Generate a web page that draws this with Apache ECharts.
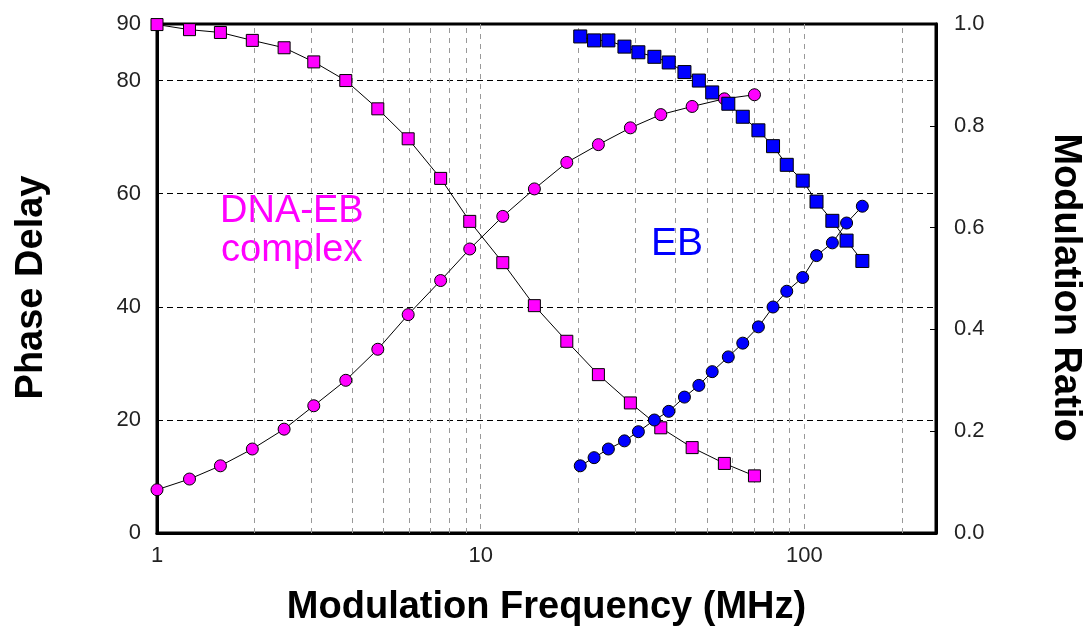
<!DOCTYPE html>
<html>
<head>
<meta charset="utf-8">
<script src="https://cdn.jsdelivr.net/npm/echarts@6/dist/echarts.min.js"></script>
<style>
  html, body { margin: 0; padding: 0; background: #fff; }
  #chart { width: 1084px; height: 627px; }
</style>
</head>
<body>
<div id="chart"></div>
<script>
// modulation frequencies (MHz)
const freqComplex = [1, 1.26, 1.57, 1.97, 2.47, 3.05, 3.83, 4.81, 5.97, 7.52, 9.25, 11.7, 14.65, 18.45, 23.1, 29.0, 36.0, 45.0, 56.6, 70.1];
const freqEB = [20.3, 22.4, 24.8, 27.8, 30.7, 34.4, 38.1, 42.6, 47.2, 51.9, 58.2, 64.5, 72.1, 80.0, 88.2, 98.8, 109, 122, 135, 151];

// DNA-EB complex
const phaseComplex = [89.9, 89.0, 88.5, 87.1, 85.8, 83.3, 80.0, 75.0, 69.7, 62.7, 55.1, 47.8, 40.2, 33.9, 28.0, 23.0, 18.6, 15.1, 12.3, 10.1];
const ratioComplex = [0.085, 0.106, 0.132, 0.165, 0.204, 0.250, 0.300, 0.361, 0.429, 0.496, 0.558, 0.622, 0.676, 0.728, 0.763, 0.796, 0.822, 0.838, 0.853, 0.861];

// free EB
const phaseEB = [87.8, 87.1, 87.1, 86.0, 85.0, 84.2, 83.2, 81.5, 80.0, 77.9, 75.9, 73.6, 71.2, 68.4, 65.1, 62.3, 58.6, 55.2, 51.7, 48.1];
const ratioEB = [0.132, 0.148, 0.165, 0.181, 0.199, 0.222, 0.239, 0.267, 0.290, 0.317, 0.346, 0.373, 0.405, 0.444, 0.475, 0.502, 0.545, 0.570, 0.609, 0.642];

// minor vertical grid lines on the log axis
const minorFreqs = [2, 3, 4, 5, 6, 7, 8, 9, 20, 30, 40, 50, 60, 70, 80, 90, 200];

const pair = (xs, ys) => xs.map((x, i) => [x, ys[i]]);

const tickFont = { fontFamily: 'Liberation Sans, Arial, sans-serif', fontSize: 22, color: '#222' };
const nameFont = { fontFamily: 'Liberation Sans, Arial, sans-serif', fontSize: 38, fontWeight: 'bold', color: '#000' };

function lineSeries(data, yIdx, shape, color, size) {
  return {
    type: 'line',
    yAxisIndex: yIdx,
    data: data,
    symbol: shape,
    symbolSize: size,
    showAllSymbol: true,
    itemStyle: { color: color, borderColor: '#000', borderWidth: 1 },
    lineStyle: { color: '#000', width: 1 },
    z: 5,
    silent: true
  };
}

const chart = echarts.init(document.getElementById('chart'));
chart.setOption({
  animation: false,
  grid: {
    left: 157, right: 148, top: 24, bottom: 94,
    outerBoundsMode: 'none', containLabel: false,
    show: true, borderColor: '#000', borderWidth: 3, backgroundColor: 'transparent'
  },
  xAxis: {
    type: 'log', logBase: 10, min: 1, max: 255,
    name: 'Modulation Frequency (MHz)',
    nameLocation: 'middle', nameGap: 56,
    nameTextStyle: nameFont,
    axisLine: { show: true, lineStyle: { color: '#000', width: 3 } },
    axisTick: { show: false },
    axisLabel: Object.assign({ margin: 12, showMaxLabel: false }, tickFont),
    splitLine: { show: true, lineStyle: { color: '#999', type: [5, 5], width: 1 } }
  },
  yAxis: [
    {
      type: 'value', min: 0, max: 90, interval: 20,
      name: 'Phase Delay',
      nameLocation: 'middle', nameGap: 106, nameRotate: 90,
      nameTextStyle: Object.assign({ padding: [0, 18, 0, 0] }, nameFont),
      axisLine: { show: true, lineStyle: { color: '#000', width: 3 } },
      axisTick: { show: true, inside: true, length: 5, lineStyle: { color: '#000' } },
      axisLabel: Object.assign({ margin: 16 }, tickFont),
      splitLine: { show: true, lineStyle: { color: '#000', type: [6, 4], width: 1 } }
    },
    {
      type: 'value', min: 0, max: 1, interval: 0.2,
      name: 'Modulation Ratio',
      nameLocation: 'middle', nameGap: 110, nameRotate: -90,
      nameTextStyle: Object.assign({ padding: [0, 0, 0, 18] }, nameFont),
      axisLine: { show: true, lineStyle: { color: '#000', width: 3 } },
      axisTick: { show: true, inside: true, length: 6, lineStyle: { color: '#000' } },
      axisLabel: Object.assign({ margin: 18, formatter: v => v.toFixed(1) }, tickFont),
      splitLine: { show: false }
    }
  ],
  graphic: [
    { type: 'text', left: 220, top: 193, style: { text: 'DNA-EB', fill: '#ff00ff', font: '38px "Liberation Sans", Arial, sans-serif' } },
    { type: 'text', left: 221, top: 232, style: { text: 'complex', fill: '#ff00ff', font: '38px "Liberation Sans", Arial, sans-serif' } },
    { type: 'text', left: 651, top: 225, style: { text: 'EB', fill: '#0000ff', font: '39px "Liberation Sans", Arial, sans-serif' } }
  ],
  series: [
    {
      type: 'line', data: [], silent: true,
      markLine: {
        silent: true, symbol: 'none', label: { show: false },
        lineStyle: { color: '#999', type: [5, 5], width: 1 },
        data: minorFreqs.map(v => ({ xAxis: v }))
      }
    },
    lineSeries(pair(freqComplex, phaseComplex), 0, 'rect', '#ff00ff', 12),
    lineSeries(pair(freqComplex, ratioComplex), 1, 'circle', '#ff00ff', 12),
    lineSeries(pair(freqEB, phaseEB), 0, 'rect', '#0000ff', 13),
    lineSeries(pair(freqEB, ratioEB), 1, 'circle', '#0000ff', 12)
  ]
});
</script>
</body>
</html>
